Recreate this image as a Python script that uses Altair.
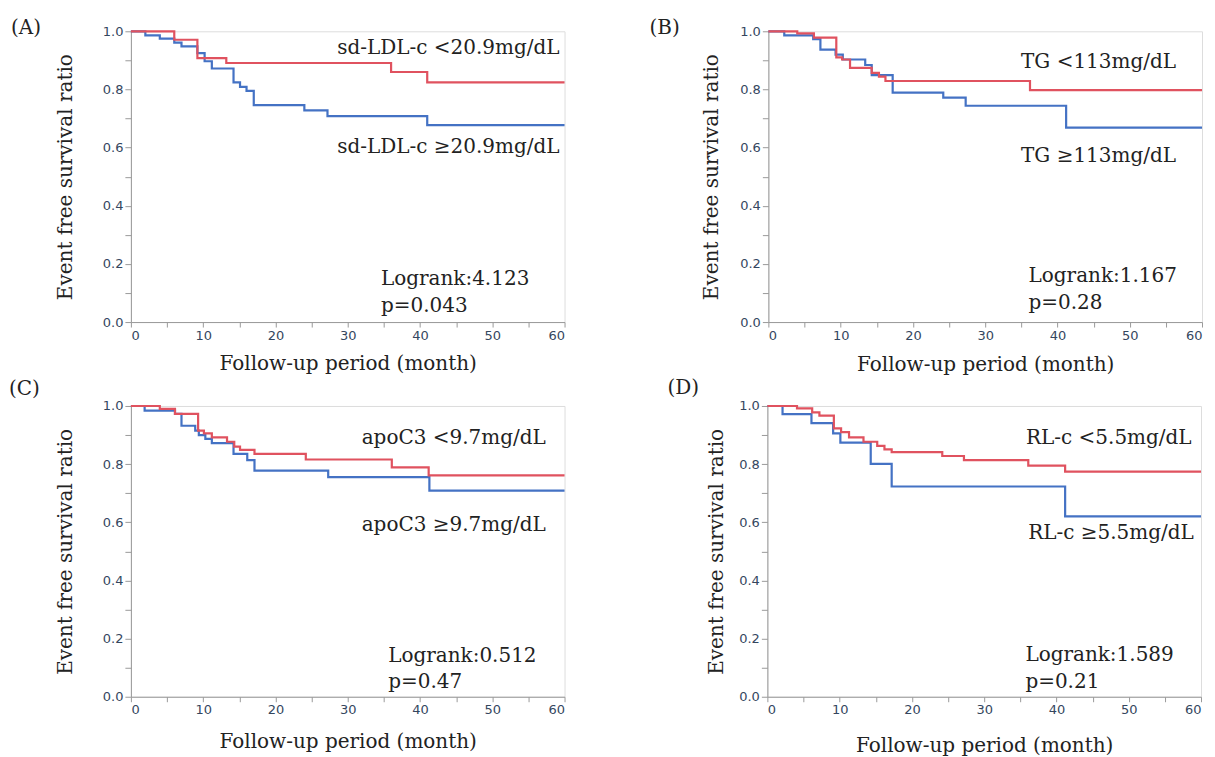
import altair as alt
import pandas as pd

RED = "#e0525f"
BLUE = "#4472c4"
LABEL_COLOR = "#34465e"
SERIF = "DejaVu Serif"

# ---- data (months, survival ratio) ----
A_red_t = [0, 6, 9.2, 13.2, 36, 41]
A_red_s = [1.0, 0.971, 0.908, 0.891, 0.860, 0.824]
A_blue_t = [0, 2, 4, 6, 7, 9.2, 10.2, 11.2, 14.2, 15.1, 16, 17, 24, 27.2, 41]
A_blue_s = [1.0, 0.986, 0.975, 0.961, 0.948, 0.925, 0.897, 0.872, 0.824, 0.809, 0.795, 0.746, 0.728, 0.708, 0.677]

B_red_t = [0, 4, 6.3, 9.4, 10.2, 11.3, 14.3, 15.3, 16.2, 36.2]
B_red_s = [1.0, 0.993, 0.978, 0.910, 0.903, 0.874, 0.857, 0.844, 0.829, 0.798]
B_blue_t = [0, 2.2, 6.2, 7.2, 9.3, 10.3, 13.4, 14.3, 17.2, 24.2, 27.3, 41.2]
B_blue_s = [1.0, 0.986, 0.973, 0.937, 0.920, 0.903, 0.884, 0.849, 0.789, 0.772, 0.744, 0.669]

C_red_t = [0, 4, 6.1, 9.3, 10.1, 11.2, 13.3, 14.3, 15.1, 17.1, 24.2, 36.1, 41.2]
C_red_s = [1.0, 0.990, 0.973, 0.915, 0.906, 0.892, 0.877, 0.860, 0.849, 0.835, 0.816, 0.789, 0.761]
C_blue_t = [0, 1.9, 6.1, 7.0, 8.9, 9.4, 10.3, 11.2, 14.2, 16.1, 17.1, 27.3, 41.3]
C_blue_s = [1.0, 0.984, 0.973, 0.932, 0.915, 0.900, 0.887, 0.872, 0.835, 0.814, 0.778, 0.755, 0.709]

D_red_t = [0, 4.1, 6.2, 7.2, 9.2, 10.2, 11.3, 13.3, 15.2, 16.2, 17.2, 24.2, 27.2, 36.1, 41.2]
D_red_s = [1.0, 0.992, 0.978, 0.967, 0.923, 0.910, 0.892, 0.877, 0.863, 0.851, 0.841, 0.828, 0.814, 0.795, 0.774]
D_blue_t = [0, 2.1, 6.1, 9.1, 10.1, 14.3, 17.2, 41.2]
D_blue_s = [1.0, 0.972, 0.941, 0.906, 0.874, 0.801, 0.723, 0.620]

END_MONTH = 60

labels_low = ["sd-LDL-c <20.9mg/dL", "TG <113mg/dL", "apoC3 <9.7mg/dL", "RL-c <5.5mg/dL"]
labels_high = ["sd-LDL-c \u226520.9mg/dL", "TG \u2265113mg/dL", "apoC3 \u22659.7mg/dL", "RL-c \u22655.5mg/dL"]
logrank = ["Logrank:4.123", "Logrank:1.167", "Logrank:0.512", "Logrank:1.589"]
pvals = ["p=0.043", "p=0.28", "p=0.47", "p=0.21"]
panel_names = ["(A)", "(B)", "(C)", "(D)"]

# annotation anchor positions (data units)
low_pos = [(59.3, 0.942), (56.4, 0.894), (57.4, 0.890), (58.7, 0.890)]
high_pos = [(59.3, 0.601), (56.4, 0.572), (57.4, 0.591), (59.0, 0.564)]
lr_pos = [(34.6, 0.148), (36.0, 0.158), (35.6, 0.141), (35.7, 0.144)]
p_gap = 0.092
# panel label offsets (pixels relative to plot origin)
name_off = [(-120, -3), (-119, -3), (-122, -17), (-100, -18)]
ytitle_pad = [27, 18, 27, 12]
xtitle_pad = [11, 12, 15, 19]

curves = [
    (A_red_t, A_red_s, A_blue_t, A_blue_s),
    (B_red_t, B_red_s, B_blue_t, B_blue_s),
    (C_red_t, C_red_s, C_blue_t, C_blue_s),
    (D_red_t, D_red_s, D_blue_t, D_blue_s),
]

W, H = 434, 291
FS = 20


def make_panel(i):
    rt, rs, bt, bs = curves[i]
    rows = []
    for t, s in zip(list(bt) + [END_MONTH], list(bs) + [bs[-1]]):
        rows.append({"t": t, "s": s, "g": "high"})
    for t, s in zip(list(rt) + [END_MONTH], list(rs) + [rs[-1]]):
        rows.append({"t": t, "s": s, "g": "low"})
    df = pd.DataFrame(rows)

    xaxis = alt.Axis(
        values=list(range(0, 61, 5)),
        labelExpr="datum.value % 10 == 0 ? datum.label : ''",
        tickSize=5,
        grid=False, domainColor="#9a9a9a", tickColor="#9a9a9a",
        labelColor=LABEL_COLOR, labelFont="DejaVu Sans", labelFontSize=13,
        labelPadding=2, titleFont=SERIF, titleFontSize=FS, titleFontWeight="normal",
        titleColor="#222222", titlePadding=xtitle_pad[i],
    )
    yaxis = alt.Axis(
        values=[round(v * 0.1, 1) for v in range(11)],
        labelExpr="round(datum.value*10) % 2 == 0 ? format(datum.value, '.1f') : ''",
        tickSize=6,
        grid=False, domainColor="#9a9a9a", tickColor="#9a9a9a",
        labelColor=LABEL_COLOR, labelFont="DejaVu Sans", labelFontSize=13,
        labelPadding=2, titleFont=SERIF, titleFontSize=FS, titleFontWeight="normal",
        titleColor="#222222", titlePadding=ytitle_pad[i],
    )
    X = alt.X("t:Q", scale=alt.Scale(domain=[0, 60], nice=False), axis=xaxis,
              title="Follow-up period (month)")
    Y = alt.Y("s:Q", scale=alt.Scale(domain=[0, 1], nice=False), axis=yaxis,
              title="Event free survival ratio")

    lines = alt.Chart(df).mark_line(interpolate="step-after", strokeWidth=2.2).encode(
        x=X, y=Y,
        color=alt.Color("g:N", scale=alt.Scale(domain=["high", "low"], range=[BLUE, RED]), legend=None),
    )

    right_df = pd.DataFrame({
        "t": [low_pos[i][0], high_pos[i][0]],
        "s": [low_pos[i][1], high_pos[i][1]],
        "txt": [labels_low[i], labels_high[i]],
    })
    right_txt = alt.Chart(right_df).mark_text(
        align="right", baseline="middle", font=SERIF, fontSize=FS, color="#222222"
    ).encode(x=X, y=Y, text="txt:N")

    left_df = pd.DataFrame({
        "t": [lr_pos[i][0], lr_pos[i][0]],
        "s": [lr_pos[i][1], lr_pos[i][1] - p_gap],
        "txt": [logrank[i], pvals[i]],
    })
    left_txt = alt.Chart(left_df).mark_text(
        align="left", baseline="middle", font=SERIF, fontSize=FS, color="#222222"
    ).encode(x=X, y=Y, text="txt:N")

    name = alt.Chart(pd.DataFrame({"n": [panel_names[i]]})).mark_text(
        align="left", baseline="middle", font=SERIF, fontSize=FS, color="#222222"
    ).encode(x=alt.value(name_off[i][0]), y=alt.value(name_off[i][1]), text="n:N")

    return alt.layer(lines, right_txt, left_txt, name).properties(width=W, height=H)


row1 = alt.hconcat(make_panel(0), make_panel(1), spacing=79)
row2 = alt.hconcat(make_panel(2), make_panel(3), spacing=97)
chart = alt.vconcat(row1, row2, spacing=2).properties(
    padding={"left": 0, "top": 9, "right": 0, "bottom": 0}
).configure_view(stroke="#c8c8c8", strokeWidth=1).configure(background="white")

chart.save("out.html", embed_options={"renderer": "svg", "actions": False})
